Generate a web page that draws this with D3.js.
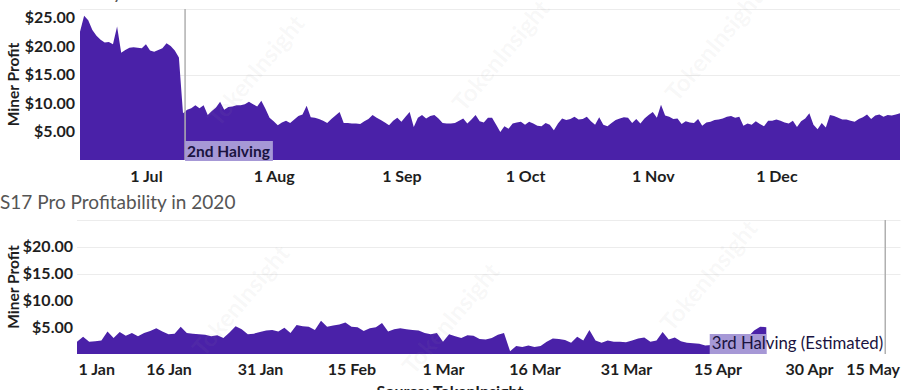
<!DOCTYPE html>
<html>
<head>
<meta charset="utf-8">
<script src="https://cdn.jsdelivr.net/npm/d3@7"></script>
<style>
  html, body { margin: 0; padding: 0; background: #fff; }
  svg { display: block; font-family: Lato, "Open Sans", sans-serif; }
</style>
</head>
<body>
<svg id="chart" width="902" height="390"></svg>
<script>
// ---------- DATA ----------
// Top chart: daily miner profit (USD), starting 2016-06-15
const topStart = "2016-06-15";
const topEnd = "2016-12-31";
const topValues = [
  22.5, 25.3, 24.5, 22.8, 21.8, 21.1, 20.6, 20.7, 20.3, 23.4,
  18.8, 19.3, 19.7, 19.8, 19.7, 19.6, 20.3, 19.2, 19.0, 19.3,
  19.6, 20.5, 20.0, 19.2, 18.0, 8.2, 8.8, 9.1, 9.6, 9.1,
  9.6, 7.9, 8.6, 9.2, 10.2, 8.8, 9.3, 9.4, 9.6, 9.6,
  9.8, 10.2, 9.8, 9.4, 10.4, 9.0, 7.4, 6.8, 6.1, 6.6,
  6.9, 6.5, 7.1, 7.7, 8.0, 9.5, 7.5, 7.4, 7.2, 6.9,
  6.5, 7.2, 7.8, 8.4, 6.5, 6.5, 6.4, 6.4, 6.3, 6.8,
  7.2, 7.9, 7.4, 7.0, 6.6, 6.1, 6.9, 7.4, 6.7, 7.6,
  8.4, 5.8, 7.4, 7.9, 7.3, 7.7, 7.9, 7.3, 6.5, 6.4,
  6.4, 6.5, 6.9, 7.3, 6.4, 7.1, 7.9, 6.8, 6.6, 7.4,
  7.4, 6.2, 4.9, 5.9, 5.5, 6.4, 6.6, 6.7, 6.2, 6.7,
  6.4, 6.0, 5.9, 6.5, 6.2, 5.2, 6.4, 7.3, 7.0, 7.2,
  7.6, 7.1, 7.2, 7.6, 6.8, 6.2, 7.5, 6.2, 5.9, 6.5,
  7.0, 7.3, 7.5, 7.4, 6.5, 7.2, 6.4, 7.3, 7.9, 8.4,
  7.4, 9.7, 7.8, 7.6, 7.2, 7.3, 6.3, 6.8, 6.6, 6.5,
  7.2, 6.0, 6.6, 6.7, 7.0, 7.1, 7.3, 7.6, 7.7, 7.4,
  7.6, 6.0, 6.4, 6.2, 6.8, 6.3, 5.9, 6.9, 6.9, 7.1,
  6.9, 6.6, 6.4, 6.9, 5.8, 6.8, 7.3, 8.2, 6.2, 5.4,
  6.5, 5.7, 7.9, 7.7, 7.4, 7.1, 7.1, 6.9, 6.7, 7.2,
  7.5, 8.0, 7.2, 7.8, 8.0, 7.6, 7.9, 7.8, 8.0, 8.2
];
const topTickDates = ["2016-07-01","2016-08-01","2016-09-01","2016-10-01","2016-11-01","2016-12-01"];
const topTickLabels = ["1 Jul","1 Aug","1 Sep","1 Oct","1 Nov","1 Dec"];
const topYTicks = [5, 10, 15, 20, 25];
const topGrid = [15, 26.5];
const topYMax = 26.5;
const topHalvingDate = "2016-07-10T12:00";
const topHalvingLabel = "2nd Halving";
const topTitle = "S9 Profitability in 2016";

// Bottom chart: daily miner profit (USD), starting 2020-01-01
const bottomStart = "2020-01-01";
const bottomEnd = "2020-05-15";
const bottomValues = [
  2.3, 3.2, 2.3, 2.4, 2.5, 4.2, 3.0, 4.1, 3.4, 3.9,
  3.3, 3.9, 4.3, 4.8, 4.2, 3.7, 3.8, 5.1, 3.9, 3.8,
  3.7, 3.6, 3.3, 3.5, 3.0, 4.0, 5.2, 4.6, 3.7, 3.8,
  4.1, 4.4, 4.5, 4.2, 4.9, 3.9, 5.4, 5.2, 5.1, 4.5,
  6.2, 5.1, 5.3, 5.5, 5.9, 5.1, 5.0, 4.3, 4.8, 5.0,
  5.8, 4.2, 4.6, 4.8, 4.6, 4.5, 4.4, 3.9, 3.7, 3.9,
  2.3, 3.7, 3.3, 3.0, 3.5, 3.4, 2.8, 2.7, 3.0, 3.6,
  3.9, 0.5, 1.5, 1.3, 1.6, 1.3, 1.5, 2.3, 2.9, 2.8,
  2.6, 2.1, 3.2, 2.5, 4.5, 2.5, 2.1, 2.5, 2.3, 2.3,
  2.2, 2.5, 2.9, 3.1, 2.3, 2.5, 4.1, 2.7, 3.1, 2.4,
  2.1, 2.0, 1.9, 1.6, 1.7, 2.2, 2.5, 2.8, 2.6, 2.7,
  3.2, 4.4, 5.1, 5.0
];
const bottomTickDates = ["2020-01-01","2020-01-16","2020-01-31","2020-02-15","2020-03-01","2020-03-16","2020-03-31","2020-04-15","2020-04-30","2020-05-15"];
const bottomTickLabels = ["1 Jan","16 Jan","31 Jan","15 Feb","1 Mar","16 Mar","31 Mar","15 Apr","30 Apr","15 May"];
const bottomYTicks = [5, 10, 15, 20];
const bottomGrid = [15, 20, 25];
const bottomYMax = 25;
const bottomHalvingDate = "2020-05-12T12:00";
const bottomHalvingLabel = "3rd Halving (Estimated)";
const bottomTitle = "S17 Pro Profitability in 2020";

const yAxisTitle = "Miner Profit";
const legendLabel = "Miner Profit";
const sourceText = "Source: TokenInsight";
const watermarkText = "TokenInsight";

// ---------- STYLE ----------
const AREA = "#4a21a8";
const LABEL_BG = "#a698d6";
const TEXT = "#1e1e1e";
const GRID = "#ececec";
const HALVING_LINE = "#b0b0b0";
const TICK_FONT = "16px";

const svg = d3.select("#chart");
const parse = d3.isoParse;
const fmtMoney = v => "$" + d3.format(".2f")(v);

function buildSeries(start, values) {
  const s = parse(start);
  return values.map((v, i) => ({ date: d3.timeDay.offset(s, i), value: v }));
}

function drawPanel(cfg) {
  const g = svg.append("g");
  const x = d3.scaleTime().domain([parse(cfg.start), parse(cfg.end)]).range([cfg.left, cfg.right]);
  const y = d3.scaleLinear().domain([0, cfg.yMax]).range([cfg.bottom, cfg.top]);
  const data = buildSeries(cfg.start, cfg.values);

  g.append("g").selectAll("line").data(cfg.grid).join("line")
    .attr("x1", cfg.left).attr("x2", cfg.right)
    .attr("y1", d => Math.round(y(d)) + 0.5).attr("y2", d => Math.round(y(d)) + 0.5)
    .attr("stroke", GRID).attr("stroke-width", 1);

  const area = d3.area().x(d => x(d.date)).y0(y(0)).y1(d => y(d.value)).curve(d3.curveLinear);
  g.append("path").datum(data).attr("d", area).attr("fill", AREA);

  const yAxis = d3.axisLeft(y).tickValues(cfg.yTicks).tickFormat(fmtMoney).tickSize(0).tickPadding(0);
  const ya = g.append("g").attr("transform", `translate(${cfg.yLabelX},0)`).call(yAxis);
  ya.select(".domain").remove();
  ya.selectAll("text").attr("fill", TEXT).style("font-size", TICK_FONT).style("font-weight", "700")
    .style("font-family", "Lato, sans-serif");

  g.append("text")
    .attr("transform", `translate(${cfg.yTitleX},${(cfg.top + cfg.bottom) / 2 + cfg.yTitleShift}) rotate(-90)`)
    .attr("text-anchor", "middle").attr("dominant-baseline", "central")
    .attr("fill", TEXT).style("font-size", "15.5px").style("font-weight", "700")
    .text(yAxisTitle);

  const xAxis = d3.axisBottom(x).tickValues(cfg.tickDates.map(parse))
    .tickFormat((d, i) => cfg.tickLabels[i]).tickSize(0).tickPadding(0);
  const xa = g.append("g").attr("transform", `translate(0,${cfg.xLabelY})`).call(xAxis);
  xa.select(".domain").remove();
  xa.selectAll("text").attr("fill", TEXT).attr("dy", 0).attr("y", 0)
    .attr("dominant-baseline", "alphabetic")
    .style("font-size", TICK_FONT).style("font-weight", "700")
    .style("font-family", "Lato, sans-serif");
  if (cfg.clampEnds) {
    const texts = xa.selectAll("text").nodes();
    d3.select(texts[0]).attr("text-anchor", "start").attr("x", 1);
    d3.select(texts[texts.length - 1]).attr("text-anchor", "end").attr("x", -1);
  }

  const hx = x(parse(cfg.halvingDate));
  g.append("line").attr("x1", hx).attr("x2", hx).attr("y1", cfg.top).attr("y2", cfg.bottom)
    .attr("stroke", HALVING_LINE).attr("stroke-width", 1.5);

  return { g, x, y, data, hx };
}

// ---------- TOP PANEL ----------
svg.append("text").attr("x", 0).attr("y", -1).attr("fill", "#555").style("font-size", "19px")
  .text(topTitle);
svg.append("rect").attr("x", 621).attr("y", -11).attr("width", 11).attr("height", 11).attr("fill", AREA);
svg.append("text").attr("x", 637).attr("y", 0).attr("fill", TEXT).style("font-size", "15px")
  .style("font-weight", "700").text(legendLabel);

const topPanel = drawPanel({
  start: topStart, end: topEnd, values: topValues,
  left: 80, right: 900, top: 160 - topYMax * 5.7, bottom: 160, yMax: topYMax,
  yTicks: topYTicks, grid: topGrid, yLabelX: 75, yTitleX: 13, yTitleShift: 0,
  tickDates: topTickDates, tickLabels: topTickLabels, xLabelY: 182,
  halvingDate: topHalvingDate, clampEnds: false
});
{
  const tx = topPanel.hx + 2;
  const bg = topPanel.g.append("rect");
  const t = topPanel.g.append("text").attr("x", tx).attr("y", 157).attr("fill", "#1a1340")
    .style("font-size", "15.5px").style("font-weight", "700").text(topHalvingLabel);
  const w = t.node().getComputedTextLength();
  bg.attr("x", topPanel.hx).attr("y", 141).attr("width", w + 5).attr("height", 20).attr("fill", LABEL_BG);
}

// ---------- BOTTOM PANEL ----------
svg.append("text").attr("x", 0).attr("y", 209).attr("fill", "#555").style("font-size", "19px")
  .text(bottomTitle);

const botPanel = drawPanel({
  start: bottomStart, end: bottomEnd, values: bottomValues,
  left: 77, right: 900.5, top: 220, bottom: 354, yMax: bottomYMax,
  yTicks: bottomYTicks, grid: bottomGrid, yLabelX: 73, yTitleX: 13, yTitleShift: 0,
  tickDates: bottomTickDates, tickLabels: bottomTickLabels, xLabelY: 375,
  halvingDate: bottomHalvingDate, clampEnds: true
});
{
  const ex = botPanel.hx - 2;
  const bg = botPanel.g.append("rect");
  const t = botPanel.g.append("text").attr("x", ex).attr("y", 349).attr("text-anchor", "end").attr("fill", "#1a1340")
    .style("font-size", "16.8px").style("font-weight", "400").text(bottomHalvingLabel);
  const w = t.node().getComputedTextLength();
  const sx = ex - w - 2;
  const lastX = botPanel.x(botPanel.data[botPanel.data.length - 1].date);
  bg.attr("x", sx).attr("y", 334).attr("width", Math.max(0, lastX - sx)).attr("height", 20).attr("fill", LABEL_BG);
}

// source
svg.append("text").attr("x", 450).attr("y", 397).attr("text-anchor", "middle").attr("fill", TEXT)
  .style("font-size", "16px").style("font-weight", "700").text(sourceText);

// watermarks
const wm = [[255, 70], [500, 55], [713, 45], [240, 300], [450, 318], [708, 275]];
svg.append("g").selectAll("text").data(wm).join("text")
  .attr("transform", d => `translate(${d[0]},${d[1]}) rotate(-50)`)
  .attr("text-anchor", "middle").attr("dominant-baseline", "central")
  .attr("fill", "#9a9a9a").attr("fill-opacity", 0.07)
  .style("font-size", "24px").style("font-weight", "700")
  .text(watermarkText);
</script>
</body>
</html>
